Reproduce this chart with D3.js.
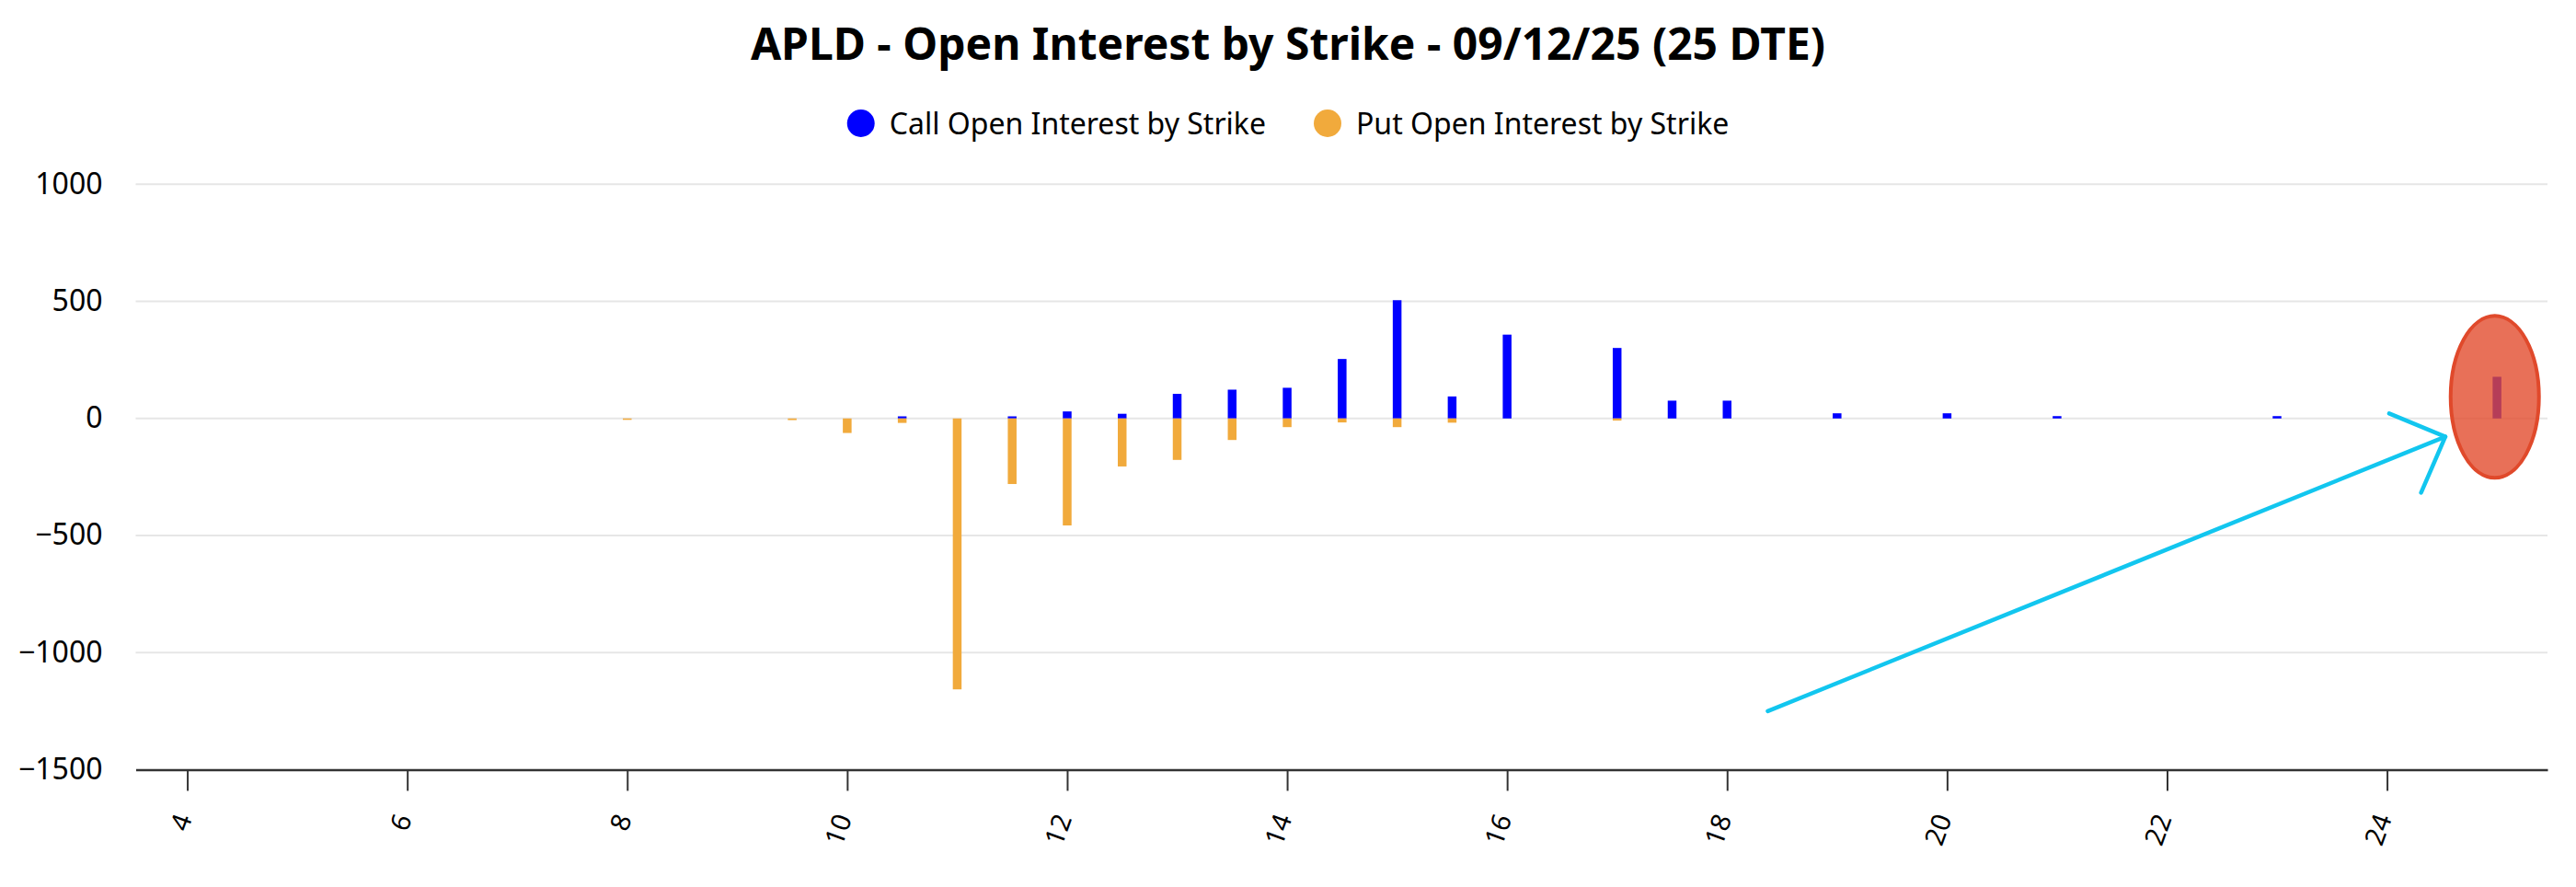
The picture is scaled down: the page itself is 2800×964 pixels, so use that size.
<!DOCTYPE html>
<html>
<head>
<meta charset="utf-8">
<script src="https://cdn.jsdelivr.net/npm/d3@7"></script>
<style>
  body { margin: 0; background: #fff; }
  svg { display: block; font-family: "Noto Sans", sans-serif; }
</style>
</head>
<body>
<svg id="chart" width="2800" height="964"></svg>
<script>
// strikes and open interest
var strikes = [8, 9.5, 10, 10.5, 11, 11.5, 12, 12.5, 13, 13.5, 14, 14.5, 15, 15.5, 16, 17, 17.5, 18, 19, 20, 21, 23, 25];
var calls   = [0, 0, 0, 9, 0, 9, 30, 20, 105, 123, 131, 254, 505, 94, 358, 301, 76, 76, 22, 22, 10, 10, 178];
var puts    = [-6, -7, -62, -19, -1157, -280, -457, -205, -177, -92, -37, -17, -37, -18, 0, -9, 0, 0, 0, 0, 0, 0, 0];

var xTicks = [4, 6, 8, 10, 12, 14, 16, 18, 20, 22, 24];
var yTicks = [-1500, -1000, -500, 0, 500, 1000];

var seriesNames = ["Call Open Interest by Strike", "Put Open Interest by Strike"];
var seriesColors = ["#0000ff", "#f1aa3c"];

// hand drawn annotation (in strike / OI units)
var arrowLine = [[18.37, -1250], [24.53, -78]];
var arrowHead = [[24.02, 21], [24.53, -78], [24.31, -317]];
var circleAt = [24.98, 92];

var svg = d3.select("#chart");
var W = 2800, H = 964;
var plotLeft = 147.5, plotRight = 2769, plotTop = 200.3, plotBottom = 836.5;

var x = d3.scaleLinear().domain([3.531, 25.459]).range([plotLeft, plotRight]);
var y = d3.scaleLinear().domain([-1500, 1000]).range([plotBottom, plotTop]);

svg.append("rect").attr("width", W).attr("height", H).attr("fill", "#fff");

// title
svg.append("text")
	.attr("x", 1400).attr("y", 65)
	.attr("text-anchor", "middle")
	.attr("font-size", 48).attr("font-weight", "bold")
	.attr("fill", "#000")
	.text("APLD - Open Interest by Strike - 09/12/25 (25 DTE)");

// legend
var legend = svg.append("g");
var lx = 0;
seriesNames.forEach(function(name, i){
	var g = legend.append("g").attr("transform", "translate(" + lx + ",0)");
	g.append("circle").attr("cx", 15).attr("cy", 134).attr("r", 15).attr("fill", seriesColors[i]);
	var t = g.append("text").attr("x", 46).attr("y", 146).attr("font-size", 32).attr("fill", "#000").text(name);
	lx += 46 + t.node().getComputedTextLength() + 52;
});
var lw = lx - 52;
legend.attr("transform", "translate(" + (1400 - lw / 2) + ",0)");

// grid
svg.append("g").selectAll("line").data(yTicks.filter(function(d){ return d > -1500; }))
	.enter().append("line")
	.attr("x1", plotLeft).attr("x2", plotRight)
	.attr("y1", function(d){ return y(d); }).attr("y2", function(d){ return y(d); })
	.attr("stroke", "#e6e6e6").attr("stroke-width", 2);

// y axis labels
var yAxis = d3.axisLeft(y).tickValues(yTicks).tickSize(0).tickPadding(36).tickFormat(d3.format("d"));
var gy = svg.append("g").attr("transform", "translate(" + plotLeft + ",0)").call(yAxis);
gy.select(".domain").remove();
gy.selectAll("text").attr("font-size", 32).attr("fill", "#000").attr("font-family", "Noto Sans").attr("dy", "0.31em");

// x axis
var xAxis = d3.axisBottom(x).tickValues(xTicks).tickSizeInner(23).tickSizeOuter(0).tickPadding(0);
var gx = svg.append("g").attr("transform", "translate(0," + plotBottom + ")").call(xAxis);
gx.select(".domain").attr("stroke", "#333").attr("stroke-width", 2.5);
gx.selectAll(".tick line").attr("stroke", "#333").attr("stroke-width", 2);
gx.selectAll(".tick text")
	.attr("font-size", 29).attr("fill", "#000").attr("font-family", "Noto Sans")
	.attr("text-anchor", "end")
	.attr("x", 0).attr("y", 0).attr("dy", 0)
	.attr("transform", "translate(5,53) rotate(-70)");

// bars
var bw = 9.5;
var bars = svg.append("g");
bars.selectAll("rect.call").data(strikes).enter().append("rect")
	.attr("class", "call")
	.attr("x", function(d){ return x(d) - bw / 2; })
	.attr("y", function(d, i){ return y(calls[i]); })
	.attr("width", bw)
	.attr("height", function(d, i){ return y(0) - y(calls[i]); })
	.attr("fill", seriesColors[0]);
bars.selectAll("rect.put").data(strikes).enter().append("rect")
	.attr("class", "put")
	.attr("x", function(d){ return x(d) - bw / 2; })
	.attr("y", y(0))
	.attr("width", bw)
	.attr("height", function(d, i){ return y(puts[i]) - y(0); })
	.attr("fill", seriesColors[1]);

// annotation
var line = d3.line().x(function(d){ return x(d[0]); }).y(function(d){ return y(d[1]); });
svg.append("path").attr("d", line(arrowLine))
	.attr("fill", "none").attr("stroke", "#12c6ef").attr("stroke-width", 4.5).attr("stroke-linecap", "round");
svg.append("path").attr("d", line(arrowHead))
	.attr("fill", "none").attr("stroke", "#12c6ef").attr("stroke-width", 4.5)
	.attr("stroke-linecap", "round").attr("stroke-linejoin", "round");
svg.append("ellipse")
	.attr("cx", x(circleAt[0])).attr("cy", y(circleAt[1]))
	.attr("rx", 48).attr("ry", 88)
	.attr("fill", "rgb(226,76,46)").attr("fill-opacity", 0.8)
	.attr("stroke", "#e0492b").attr("stroke-width", 4);
</script>
</body>
</html>
